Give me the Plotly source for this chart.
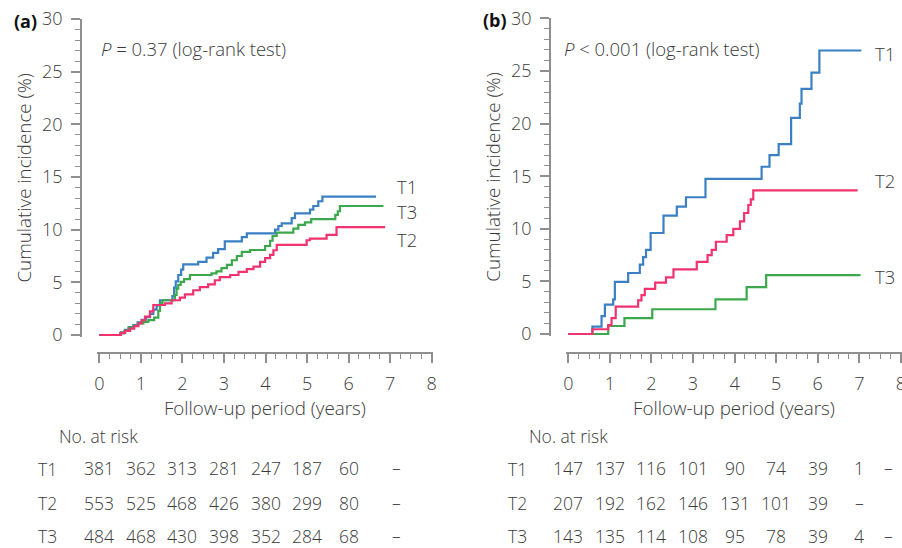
import plotly.graph_objects as go

# ---------------- data ----------------
groups = ["T1", "T2", "T3"]
risk_times = [0, 1, 2, 3, 4, 5, 6, 7, 8]

# Panel (a)
a_t1_t = [0, 0.52, 0.62, 0.72, 0.82, 0.92, 1.02, 1.12, 1.22, 1.30, 1.38, 1.46, 1.76, 1.80, 1.84, 1.90, 1.97, 2.02,
          2.38, 2.58, 2.74, 2.86, 3.02, 3.43, 3.55, 4.23, 4.31, 4.39, 4.63, 4.71, 5.07, 5.15, 5.27, 5.37, 6.66]
a_t1_v = [0, 0.25, 0.5, 0.75, 0.95, 1.2, 1.45, 1.7, 2.0, 2.4, 2.8, 3.3, 3.7, 4.5, 5.1, 5.7, 6.2, 6.7,
          6.95, 7.35, 7.8, 8.15, 8.9, 9.3, 9.65, 10.0, 10.35, 10.6, 11.1, 11.55, 11.9, 12.25, 12.7, 13.15, 13.15]
a_t2_t = [0, 0.52, 0.62, 0.74, 0.84, 0.94, 1.02, 1.10, 1.22, 1.30, 1.58, 1.74, 1.94, 2.06, 2.26, 2.42, 2.62,
          2.78, 2.90, 3.15, 3.35, 3.55, 3.71, 3.87, 3.99, 4.11, 4.19, 4.27, 4.99, 5.07, 5.47, 5.71, 6.88]
a_t2_v = [0, 0.2, 0.4, 0.6, 0.85, 1.1, 1.4, 1.75, 2.25, 2.85, 3.0, 3.3, 3.55, 3.85, 4.25, 4.55, 4.8,
          5.2, 5.5, 5.7, 6.0, 6.25, 6.5, 6.95, 7.3, 7.6, 8.05, 8.55, 9.0, 9.15, 9.5, 10.25, 10.25]
a_t3_t = [0, 0.50, 0.60, 0.70, 0.82, 0.94, 1.06, 1.18, 1.32, 1.42, 1.46, 1.52, 1.82, 1.86, 1.90, 1.96, 2.04,
          2.18, 2.70, 2.82, 2.94, 3.07, 3.19, 3.31, 3.43, 3.63, 3.99, 4.11, 4.17, 4.27, 4.67, 4.79, 4.95,
          5.10, 5.68, 5.74, 5.79, 6.84]
a_t3_v = [0, 0.15, 0.4, 0.7, 0.9, 1.1, 1.25, 1.42, 1.65, 2.3, 3.0, 3.3, 3.8, 4.4, 4.75, 5.05, 5.3,
          5.7, 5.85, 6.05, 6.35, 6.65, 7.1, 7.5, 7.9, 8.07, 8.45, 8.95, 9.4, 9.72, 10.1, 10.45, 10.7,
          11.0, 11.4, 11.75, 12.25, 12.25]

# Panel (b)
b_t1_t = [0, 0.58, 0.80, 0.88, 1.08, 1.12, 1.44, 1.72, 1.80, 1.87, 1.98, 2.29, 2.61, 2.83, 3.30, 4.65,
          4.84, 5.06, 5.36, 5.57, 5.61, 5.85, 6.04, 7.05]
b_t1_v = [0, 0.7, 1.7, 2.8, 3.3, 4.95, 5.8, 6.6, 7.3, 8.0, 9.6, 11.25, 12.1, 13.0, 14.75, 15.9,
          17.0, 18.05, 20.55, 21.9, 23.3, 24.85, 26.95, 26.95]
b_t2_t = [0, 0.58, 0.96, 1.04, 1.14, 1.68, 1.76, 1.84, 2.09, 2.35, 2.53, 3.09, 3.35, 3.45, 3.55, 3.81,
          3.97, 4.13, 4.23, 4.33, 4.39, 4.45, 6.96]
b_t2_v = [0, 0.45, 0.85, 1.5, 2.6, 3.2, 3.7, 4.28, 4.88, 5.39, 6.15, 6.85, 7.5, 8.0, 8.77, 9.4,
          10.0, 10.7, 11.5, 12.26, 12.8, 13.65, 13.65]
b_t3_t = [0, 0.96, 1.35, 2.02, 3.54, 4.29, 4.76, 7.03]
b_t3_v = [0, 0.76, 1.5, 2.35, 3.3, 4.45, 5.6, 5.6]

# Numbers at risk
a_risk_t1 = ["381", "362", "313", "281", "247", "187", "60", "–"]
a_risk_t2 = ["553", "525", "468", "426", "380", "299", "80", "–"]
a_risk_t3 = ["484", "468", "430", "398", "352", "284", "68", "–"]
b_risk_t1 = ["147", "137", "116", "101", "90", "74", "39", "1", "–"]
b_risk_t2 = ["207", "192", "162", "146", "131", "101", "39", "–"]
b_risk_t3 = ["143", "135", "114", "108", "95", "78", "39", "4", "–"]

p_text_a = "<i>P</i> = 0.37 (log-rank test)"
p_text_b = "<i>P</i> < 0.001 (log-rank test)"

# ---------------- style ----------------
W, H = 902, 548
FONT = "Open Sans"
TXT = "#3a3a3a"
AXC = "#8f8f8f"
COL = {"T1": "#3a80c3", "T2": "#f0326f", "T3": "#3ba84b"}


def fx(px):
    return px / W


def fy(py):
    return 1 - py / H


def font(size, color=TXT, weight=300):
    return dict(family=FONT, size=size, color=color, weight=weight)


# pixel geometry of the two panels
PANELS = {
    "a": dict(x0=99.3, xu=41.55, y0=335.0, yu=10.53, yaxis_px=81.0, xaxis_py=352.7),
    "b": dict(x0=568.3, xu=41.57, y0=334.0, yu=10.52, yaxis_px=550.0, xaxis_py=352.7),
}
XR = [-0.05, 8.02]
YR = [-0.2, 30.05]

fig = go.Figure()

series = {
    "a": [("T1", a_t1_t, a_t1_v), ("T3", a_t3_t, a_t3_v), ("T2", a_t2_t, a_t2_v)],
    "b": [("T1", b_t1_t, b_t1_v), ("T3", b_t3_t, b_t3_v), ("T2", b_t2_t, b_t2_v)],
}
axes_ids = {"a": ("x", "y"), "b": ("x2", "y2")}

for key, lst in series.items():
    xa, ya = axes_ids[key]
    for name, t, v in lst:
        fig.add_trace(go.Scatter(x=t, y=v, mode="lines", line=dict(color=COL[name], width=2.2, shape="hv"),
                                 name=name, showlegend=False, xaxis=xa, yaxis=ya, hoverinfo="skip"))

for key, g in PANELS.items():
    xd = [fx(g["x0"] + XR[0] * g["xu"]), min(1.0, fx(g["x0"] + XR[1] * g["xu"]))]
    yd = [fy(g["y0"] - YR[0] * g["yu"]), fy(g["y0"] - YR[1] * g["yu"])]
    xname = "xaxis" if key == "a" else "xaxis2"
    yname = "yaxis" if key == "a" else "yaxis2"
    fig.layout[xname] = dict(
        domain=xd, range=XR, anchor="free", position=fy(g["xaxis_py"]), automargin=False,
        showgrid=False, zeroline=False, showline=True, linecolor=AXC, linewidth=1.6,
        ticks="outside", ticklen=9, tickwidth=1.6, tickcolor=AXC, tickmode="array",
        tickvals=list(range(0, 9)), ticktext=[str(i) for i in range(0, 9)],
        minor=dict(dtick=0.25, tick0=0, ticks="outside", ticklen=5, tickwidth=1.2, tickcolor=AXC),
        tickfont=font(18), ticklabelstandoff=6, ticklabeloverflow="allow",
        title=dict(text="Follow-up period (years)", font=font(18.8), standoff=1),
    )
    fig.layout[yname] = dict(
        domain=yd, range=YR, anchor="free", position=fx(g["yaxis_px"]), automargin=False,
        showgrid=False, zeroline=False, showline=True, linecolor=AXC, linewidth=1.6,
        ticks="outside", ticklen=9, tickwidth=1.6, tickcolor=AXC, tickmode="array",
        tickvals=[0, 5, 10, 15, 20, 25, 30],
        minor=dict(dtick=1, tick0=0, ticks="outside", ticklen=5, tickwidth=1.2, tickcolor=AXC),
        tickfont=font(18), ticklabelstandoff=5,
        title=dict(text="Cumulative incidence (%)", font=font(18.8), standoff=4),
    )

ann = []
# panel letters
ann.append(dict(text="<b>(a)</b>", x=fx(12), y=fy(21), xref="paper", yref="paper",
                xanchor="left", yanchor="middle", showarrow=False, font=font(18, "#111", 700)))
ann.append(dict(text="<b>(b)</b>", x=fx(481), y=fy(20), xref="paper", yref="paper",
                xanchor="left", yanchor="middle", showarrow=False, font=font(18, "#111", 700)))
# p-values
ann.append(dict(text=p_text_a, x=fx(99), y=fy(49), xref="paper", yref="paper",
                xanchor="left", yanchor="middle", showarrow=False, font=font(18.5)))
ann.append(dict(text=p_text_b, x=fx(562), y=fy(49), xref="paper", yref="paper",
                xanchor="left", yanchor="middle", showarrow=False, font=font(18.5)))

# end labels
end_labels = {
    "a": [("T1", 7.12, 14.15), ("T3", 7.12, 11.7), ("T2", 7.12, 9.1)],
    "b": [("T1", 7.33, 26.7), ("T2", 7.33, 14.6), ("T3", 7.33, 5.5)],
}
for key, labs in end_labels.items():
    xa, ya = axes_ids[key]
    for name, xx, yy in labs:
        ann.append(dict(text=name, x=xx, y=yy, xref=xa, yref=ya, xanchor="left", yanchor="middle",
                        showarrow=False, font=font(18.5)))

# risk tables
row_py = {"T1": 468, "T2": 503, "T3": 535.5}
tables = {
    "a": {"T1": a_risk_t1, "T2": a_risk_t2, "T3": a_risk_t3},
    "b": {"T1": b_risk_t1, "T2": b_risk_t2, "T3": b_risk_t3},
}
header_px = {"a": 57, "b": 527}
label_px = {"a": 47.5, "b": 517}
for key, tab in tables.items():
    xa, _ = axes_ids[key]
    ann.append(dict(text="No. at risk", x=fx(header_px[key]), y=fy(436), xref="paper", yref="paper",
                    xanchor="left", yanchor="middle", showarrow=False, font=font(17.5)))
    for g_name in groups:
        ann.append(dict(text=g_name, x=fx(label_px[key]), y=fy(row_py[g_name] + 0.5), xref="paper", yref="paper",
                        xanchor="center", yanchor="middle", showarrow=False, font=font(17.5)))
        for i, val in enumerate(tab[g_name]):
            shift = 0
            if key == "b" and i == 8:
                shift = -12
            if key == "a" and val == "–":
                shift = 6
            ann.append(dict(text=val, x=risk_times[i], y=fy(row_py[g_name]), xref=xa, yref="paper",
                            xanchor="center", yanchor="middle", xshift=shift, showarrow=False,
                            font=font(17.5)))

fig.update_layout(
    width=W, height=H, margin=dict(l=0, r=0, t=0, b=0, autoexpand=False),
    paper_bgcolor="white", plot_bgcolor="white",
    font=dict(family=FONT, color=TXT), annotations=ann, showlegend=False,
)

fig.write_html("out.html", config={"displayModeBar": False},
               post_script="document.body.style.margin='0';document.body.style.overflow='hidden';")
